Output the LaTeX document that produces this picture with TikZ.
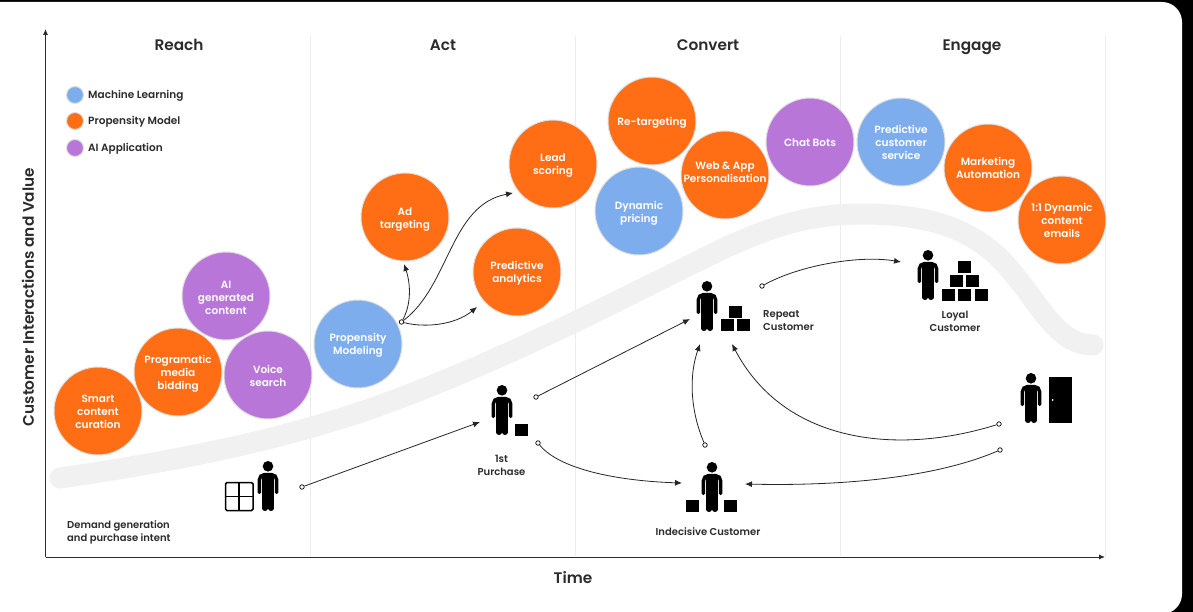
\documentclass[tikz,border=0pt]{standalone}
\usepackage{fontspec}
\setmainfont{Poppins}[BoldFont={Poppins SemiBold}]
\usetikzlibrary{arrows.meta}
\definecolor{orangeFill}{HTML}{FF6D14}
\definecolor{blueFill}{HTML}{7EADEE}
\definecolor{purpleFill}{HTML}{B877D8}
\definecolor{inkDark}{HTML}{2B2B2B}
\tikzset{
  bubble/.style={circle,minimum size=88pt,inner sep=0pt,draw=gray!25,line width=1pt},
  bubbletext/.style={text=white,align=center,inner sep=0pt,font=\fontsize{10.5}{13}\selectfont\bfseries},
  legend/.style={circle,minimum size=17pt,inner sep=0pt,draw=gray!25,line width=1pt},
  legendtext/.style={anchor=west,inner sep=0pt,text=inkDark,font=\fontsize{10.5}{13}\selectfont\bfseries},
  caption/.style={text=inkDark,align=center,inner sep=0pt,font=\fontsize{10}{13}\selectfont\bfseries},
  phase/.style={text=inkDark,font=\fontsize{15.3}{18}\selectfont\bfseries},
  dot/.style={circle,draw=black,fill=white,inner sep=0pt,minimum size=4.5pt,line width=.7pt},
  flow/.style={-{Latex[length=7pt,width=6pt]},line width=.8pt,black!85},
  person/.pic={
    \fill (0,5.3) circle (5.3);
    \draw[line width=3.4pt,line cap=round,rounded corners=5pt] (-8.6,31.5) -- (-8.6,13.6) -- (8.6,13.6) -- (8.6,31.5);
    \fill (-5.8,12.5) rectangle (5.8,32);
    \draw[line width=5.4pt,line cap=round] (-3,25) -- (-3,47.3);
    \draw[line width=5.4pt,line cap=round] (3,25) -- (3,47.3);
  }
}
\newcommand{\crate}[2]{\fill (#1,#2) rectangle ++(13,12);}
\begin{document}
\begin{tikzpicture}[x=1pt,y=-1pt]
  \useasboundingbox (0,0) rectangle (1193,612);
  \fill[black] (0,0) rectangle (1193,612);
  \fill[white,rounded corners=20pt] (-30,2) rectangle (1182,614);

  % phase separators
  \foreach \x in {310,575,840,1105}
    \draw[gray!15,line width=.6pt] (\x,36) -- (\x,556);

  % value curve
  \draw[gray!11,line width=21pt,line cap=round] (60,478)
    .. controls (170,462) and (290,440) .. (400,398)
    .. controls (500,360) and (590,315) .. (680,270)
    .. controls (740,240) and (790,214) .. (860,214)
    .. controls (925,214) and (975,226) .. (1012,272)
    .. controls (1040,305) and (1058,345) .. (1093,345);

  % axes
  \draw[-{Latex[length=6pt,width=5pt]},line width=.9pt,inkDark] (45.5,557) -- (45.5,29);
  \draw[-{Latex[length=6pt,width=5pt]},line width=.9pt,inkDark] (45.5,557) -- (1105,557);
  \node[phase,rotate=90] (valuelabel) at (28,297) {Customer Interactions and Value};
  \node[phase,anchor=base] (timelabel) at (573,583) {Time};

  \node[phase,anchor=base] (reach) at (179,51) {Reach};
  \node[phase,anchor=base] (act) at (443,51) {Act};
  \node[phase,anchor=base] (convert) at (708,51) {Convert};
  \node[phase,anchor=base] (engage) at (972,51) {Engage};

  % legend
  \node[legend,fill=blueFill] (legendml) at (75,95) {};
  \node[legend,fill=orangeFill] (legendpm) at (75,121) {};
  \node[legend,fill=purpleFill] (legendai) at (75,148) {};
  \node[legendtext] at (88,96) {Machine Learning};
  \node[legendtext] at (88,122) {Propensity Model};
  \node[legendtext] at (88,149) {AI Application};

  % bubbles
  \node[bubble,fill=orangeFill,label={[bubbletext,yshift=-1pt]center:Smart\\content\\curation}] (smart) at (98,411) {};
  \node[bubble,fill=orangeFill,label={[bubbletext,yshift=-2pt]center:Programatic\\media\\bidding}] (media) at (178,372) {};
  \node[bubble,fill=purpleFill,label={[bubbletext,yshift=-2pt]center:AI\\generated\\content}] (aigen) at (226,296) {};
  \node[bubble,fill=purpleFill,label={[bubbletext,yshift=-1pt]center:Voice\\search}] (voice) at (268,375) {};
  \node[bubble,fill=blueFill,label={[bubbletext,yshift=-1pt]center:Propensity\\Modeling}] (modeling) at (358,344) {};
  \node[bubble,fill=orangeFill,label={[bubbletext,yshift=-3pt]center:Ad\\targeting}] (adtarget) at (405,217) {};
  \node[bubble,fill=orangeFill,label={[bubbletext,yshift=-2pt]center:Lead\\scoring}] (lead) at (553,164) {};
  \node[bubble,fill=orangeFill,label={[bubbletext,yshift=-1pt]center:Predictive\\analytics}] (analytics) at (517,272) {};
  \node[bubble,fill=orangeFill,label={[bubbletext,yshift=-2pt]center:Re-targeting}] (retarget) at (652,121) {};
  \node[bubble,fill=blueFill,label={[bubbletext,yshift=-2pt]center:Dynamic\\pricing}] (pricing) at (639,211) {};
  \node[bubble,fill=orangeFill,label={[bubbletext,yshift=3pt]center:Web \& App\\Personalisation}] (webapp) at (725,175) {};
  \node[bubble,fill=purpleFill,label={[bubbletext,yshift=-1pt]center:Chat Bots}] (chat) at (810,142) {};
  \node[bubble,fill=blueFill,label={[bubbletext]center:Predictive\\customer\\service}] (service) at (901,142) {};
  \node[bubble,fill=orangeFill,label={[bubbletext]center:Marketing\\Automation}] (automation) at (988,168) {};
  \node[bubble,fill=orangeFill,label={[bubbletext]center:1:1 Dynamic\\content\\emails}] (emails) at (1062,220) {};

  % customers
  \draw[line width=1.5pt,rounded corners=1.5pt] (225.5,482.5) rectangle (253,510.5);
  \draw[line width=1.5pt] (239.2,482.5) -- (239.2,510.5) (225.5,496.5) -- (253,496.5);
  \pic at (268,461) {person};

  \pic at (502,385) {person};
  \crate{515}{423.5}
  \node[caption] (firstbuy) at (501.5,465) {1st\\Purchase};

  \pic at (707,281) {person};
  \crate{729}{306}
  \crate{721}{319}
  \crate{737}{319}
  \node[caption,align=left,anchor=west] (repeat) at (763,321) {Repeat\\Customer};

  \pic at (928,250) {person};
  \crate{958}{261}
  \crate{950}{275}
  \crate{966}{275}
  \crate{942}{288.5}
  \crate{958}{288.5}
  \crate{975}{288.5}
  \node[caption] (loyal) at (955,321) {Loyal\\Customer};

  \pic at (712,462) {person};
  \crate{686}{500}
  \crate{724}{500}
  \node[caption] (indecisive) at (708,532) {Indecisive Customer};

  \pic at (1031,373) {person};
  \fill (1049,377) rectangle (1072,423);
  \fill[white] (1052.6,400) circle (1);

  \node[caption,align=left,anchor=west] (demand) at (67,532) {Demand generation\\and purchase intent};

  % connector ends
  \node[dot] (dotmodel) at (401.5,322) {};
  \node[dot] (dotintent) at (302,487) {};
  \node[dot] (dotfirstup) at (536,397) {};
  \node[dot] (dotfirstdown) at (538,443) {};
  \node[dot] (dotrepeat) at (762,286) {};
  \node[dot] (dotindecisive) at (705,445) {};
  \node[dot] (dotlostup) at (999,424) {};
  \node[dot] (dotlostdown) at (1000,450) {};

  \coordinate (toad) at (404,264);
  \coordinate (tolead) at (513,193);
  \coordinate (toanalytics) at (477,307);
  \coordinate (tofirst) at (480,422);
  \coordinate (torepeatleft) at (690,319);
  \coordinate (torepeatlow) at (700,344);
  \coordinate (torepeatright) at (732,344);
  \coordinate (toindecisiveleft) at (682,483);
  \coordinate (toindecisiveright) at (745,484);
  \coordinate (toloyal) at (901,262);

  \draw[flow] (dotmodel) .. controls (411,305) and (411,285) .. (toad);
  \draw[flow] (dotmodel) .. controls (450,285) and (450,205) .. (tolead);
  \draw[flow] (dotmodel) .. controls (425,328) and (455,325) .. (toanalytics);
  \draw[flow] (dotintent) -- (tofirst);
  \draw[flow] (dotfirstup) -- (torepeatleft);
  \draw[flow] (dotfirstdown) .. controls (560,470) and (620,481) .. (toindecisiveleft);
  \draw[flow] (dotrepeat) .. controls (800,265) and (860,255) .. (toloyal);
  \draw[flow] (dotindecisive) .. controls (690,410) and (689,375) .. (torepeatlow);
  \draw[flow] (dotlostup) .. controls (900,455) and (785,445) .. (torepeatright);
  \draw[flow] (dotlostdown) .. controls (930,480) and (830,486) .. (toindecisiveright);
\end{tikzpicture}
\end{document}
